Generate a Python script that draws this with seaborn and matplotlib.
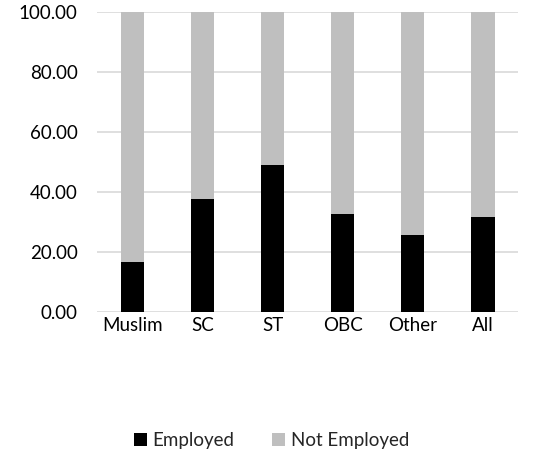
import pandas as pd
import matplotlib.pyplot as plt
import seaborn as sns

# chart values
groups = ["Muslim", "SC", "ST", "OBC", "Other", "All"]
employed = [16.6, 37.6, 48.7, 32.6, 25.4, 31.6]
not_employed = [100 - e for e in employed]

df = pd.DataFrame({"group": groups, "Employed": employed, "Not Employed": not_employed})
df["total"] = df["Employed"] + df["Not Employed"]

sns.set_style("white")
plt.rcParams["font.family"] = ["Lato", "DejaVu Sans"]

fig = plt.figure(figsize=(5.43, 4.63), dpi=100)
ax = fig.add_axes([0.179, 0.327, 0.775, 0.648])

# grey full-height bar first, then black employed part on top
sns.barplot(data=df, x="group", y="total", color="#BFBFBF", width=0.33,
            saturation=1, ax=ax, label="Not Employed", zorder=2, linewidth=0)
sns.barplot(data=df, x="group", y="Employed", color="#000000", width=0.33,
            saturation=1, ax=ax, label="Employed", zorder=3, linewidth=0)

ax.set_ylim(0, 100)
ax.set_yticks([0, 20, 40, 60, 80, 100])
ax.set_yticklabels([f"{v:.2f}" for v in [0, 20, 40, 60, 80, 100]])
ax.yaxis.grid(True, color="#D9D9D9", linewidth=1.2, zorder=0)
ax.set_axisbelow(True)
ax.set_xlabel("")
ax.set_ylabel("")
for s in ax.spines.values():
    s.set_visible(False)
ax.tick_params(axis="both", length=0, labelsize=13.5, colors="#000000")
ax.tick_params(axis="x", pad=4)
ax.tick_params(axis="y", pad=14)
ax.set_xlim(-0.5, 5.5)

handles, labels = ax.get_legend_handles_labels()
if ax.get_legend() is not None:
    ax.get_legend().remove()
order = [labels.index("Employed"), labels.index("Not Employed")]
fig.legend([handles[i] for i in order], [labels[i] for i in order],
           loc="center", bbox_to_anchor=(0.5, 0.048), ncol=2, frameon=False,
           fontsize=13.5, handlelength=0.7, handleheight=0.7, handletextpad=0.3,
           columnspacing=2.0)

plt.savefig("out.png", dpi=100)
